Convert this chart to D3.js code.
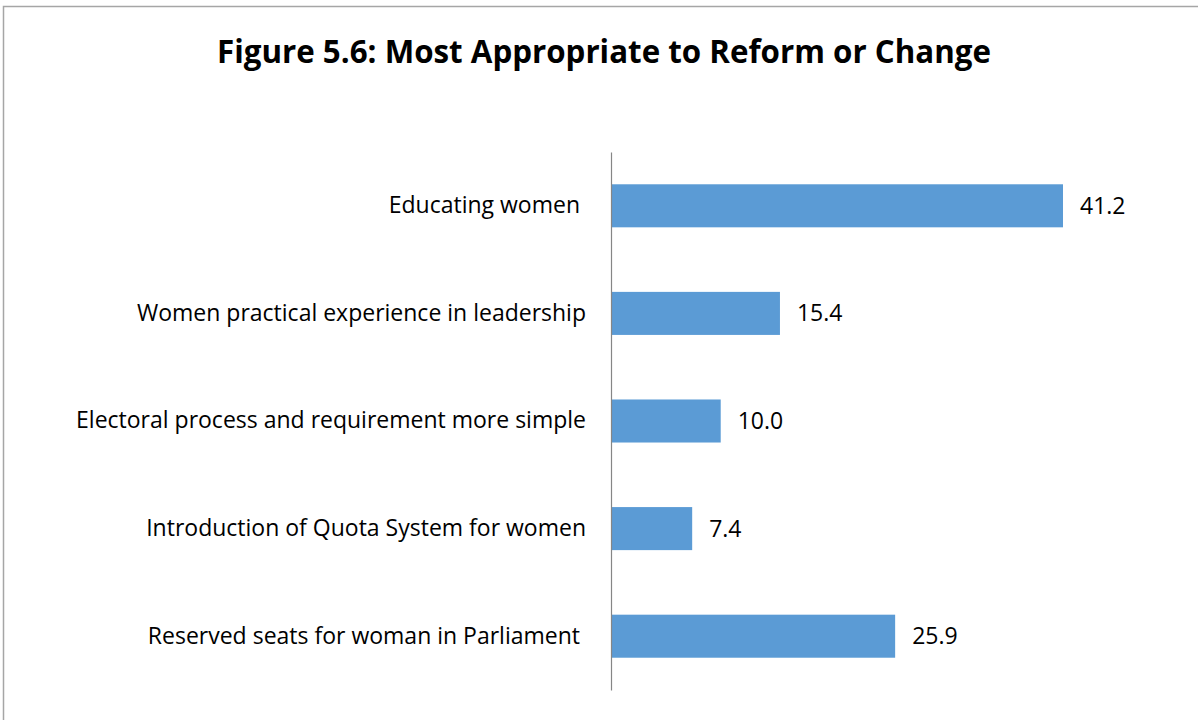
<!DOCTYPE html>
<html><head><meta charset="utf-8">
<script src="https://cdn.jsdelivr.net/npm/d3@7"></script>
<style>body{margin:0;background:#fff}svg{display:block}</style>
</head><body>
<svg id="c" width="1198" height="720"></svg>
<script>
const categories = ["Educating women ", "Women practical experience in leadership", "Electoral process and requirement more simple", "Introduction of Quota System for women", "Reserved seats for woman in Parliament "];
const values = [41.2, 15.4, 10.0, 7.4, 25.9];
const title = "Figure 5.6: Most Appropriate to Reform or Change";

const svg = d3.select("#c");
const font = "'Open Sans', Lato, sans-serif";
svg.append("rect").attr("x",3.5).attr("y",6.5).attr("width",1220).attr("height",760)
  .attr("fill","#fff").attr("stroke","#a6a6a6").attr("stroke-width",1.5);

svg.append("text").attr("x",604).attr("y",63).attr("text-anchor","middle")
  .attr("font-family",font).attr("font-weight","bold").attr("font-size",31.3).attr("fill","#000").text(title);

const x0 = 611;
const x = d3.scaleLinear().domain([0, 41.2]).range([x0, 1063]);
const y = d3.scaleBand().domain(categories).range([152, 690]).paddingInner(0.6).paddingOuter(0.3);

const g = svg.append("g");
g.selectAll("rect.bar").data(values).join("rect").attr("class","bar")
  .attr("x", x(0)).attr("y",(d,i)=>y(categories[i])).attr("width",d=>x(d)-x(0)).attr("height",y.bandwidth())
  .attr("fill","#5b9bd5");
g.selectAll("text.val").data(values).join("text").attr("class","val")
  .attr("x",d=>x(d)+17).attr("y",(d,i)=>y(categories[i])+y.bandwidth()/2).attr("dy","0.35em")
  .attr("font-family",font).attr("font-size",23).attr("fill","#000").text(d=>d.toFixed(1));

const axis = d3.axisLeft(y).tickSize(0).tickPadding(25);
const ag = svg.append("g").attr("transform",`translate(${x0},0)`).call(axis);
ag.select(".domain").attr("stroke","#868686").attr("stroke-width",1.2);
ag.selectAll(".tick text").attr("font-family",font).attr("font-size",23).attr("fill","#000").style("white-space","pre");
</script>
</body></html>
